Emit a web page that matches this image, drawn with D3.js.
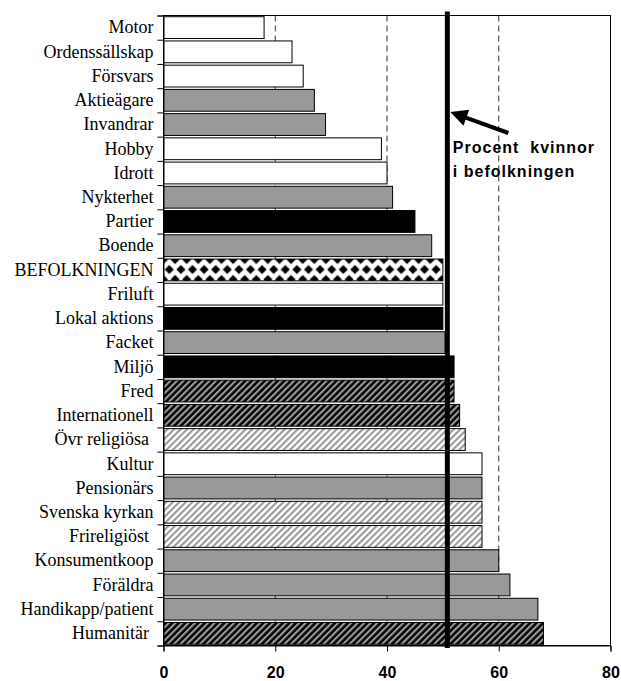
<!DOCTYPE html>
<html>
<head>
<meta charset="utf-8">
<script src="https://cdn.jsdelivr.net/npm/d3@7"></script>
<style>
  body { margin: 0; background: #fff; }
  svg { display: block; }
</style>
</head>
<body>
<script>
// Andel kvinnor (%) bland medlemmar, per typ av förening
var categories = ["Motor", "Ordenssällskap", "Försvars", "Aktieägare", "Invandrar", "Hobby", "Idrott",
    "Nykterhet", "Partier", "Boende", "BEFOLKNINGEN", "Friluft", "Lokal aktions", "Facket", "Miljö",
    "Fred", "Internationell", "Övr religiösa ", "Kultur", "Pensionärs", "Svenska kyrkan", "Frireligiöst ",
    "Konsumentkoop", "Föräldra", "Handikapp/patient", "Humanitär "];

var values = [18, 23, 25, 27, 29, 39, 40, 41, 45, 48, 50, 50, 50, 50.4, 52,
    52, 53, 54, 57, 57, 57, 57, 60, 62, 67, 68];

// grupp-kod för varje kategori (styr fyllningen)
var groups = ["a", "a", "a", "b", "b", "a", "a", "b", "c", "b", "pop", "a", "c", "b", "c",
    "d", "d", "e", "a", "b", "e", "e", "b", "b", "b", "d"];

var xTicks = [0, 20, 40, 60, 80];
var refValue = 50.8;   // procent kvinnor i befolkningen
var refLabel = ["Procent  kvinnor", "i befolkningen"];

var svg = d3.select("body").append("svg")
        .attr("width", 621)
        .attr("height", 681),
    margin = {top: 15.5, right: 10.5, bottom: 35.5, left: 163.5},
    width = +svg.attr("width") - margin.left - margin.right,
    height = +svg.attr("height") - margin.top - margin.bottom,
    g = svg.append("g").attr("transform", "translate(" + margin.left + "," + margin.top + ")");

var x = d3.scaleLinear()
    .domain([0, 80])
    .range([0, width]);

var y = d3.scaleBand()
    .domain(categories)
    .range([0, height])
    .paddingInner(0.1)
    .paddingOuter(0.05);

// category boundaries for the left axis ticks
var yEdge = d3.scaleLinear()
    .domain([0, categories.length])
    .range([0, height]);

// ---------- patterns ----------
var defs = svg.append("defs");

function hatch(id, bg, fg) {
    var p = defs.append("pattern")
        .attr("id", id)
        .attr("patternUnits", "userSpaceOnUse")
        .attr("width", 4.6)
        .attr("height", 4.6)
        .attr("patternTransform", "rotate(45)");
    p.append("rect").attr("width", 4.6).attr("height", 4.6).attr("fill", bg);
    p.append("rect").attr("width", 2.1).attr("height", 4.6).attr("fill", fg);
}
hatch("darkHatch", "#000", "#9a9a9a");
hatch("lightHatch", "#fff", "#9a9a9a");

var popIndex = groups.indexOf("pop");
var dp = defs.append("pattern")
    .attr("id", "diamonds")
    .attr("patternUnits", "userSpaceOnUse")
    .attr("x", 0)
    .attr("y", margin.top + y(categories[popIndex]))
    .attr("width", 11.6)
    .attr("height", 20);
dp.append("rect").attr("width", 11.6).attr("height", 20).attr("fill", "#fff");
[[0, 5], [11.6, 5], [5.8, 15]].forEach(function(c) {
    dp.append("path")
        .attr("d", "M" + c[0] + "," + (c[1] - 4.6) + "L" + (c[0] + 4.6) + "," + c[1] +
            "L" + c[0] + "," + (c[1] + 4.6) + "L" + (c[0] - 4.6) + "," + c[1] + "Z")
        .attr("fill", "#000");
});

var fill = d3.scaleOrdinal()
    .domain(["a", "b", "c", "d", "e", "pop"])
    .range(["#ffffff", "#999999", "#000000", "url(#darkHatch)", "url(#lightHatch)", "url(#diamonds)"]);

// ---------- gridlines ----------
g.selectAll(".grid")
    .data(xTicks.filter(function(d) { return d > 0 && d < 80; }))
  .enter().append("line")
    .attr("class", "grid")
    .attr("x1", function(d) { return x(d); })
    .attr("x2", function(d) { return x(d); })
    .attr("y1", 0)
    .attr("y2", height)
    .attr("stroke", "#333")
    .attr("stroke-width", 1)
    .attr("stroke-dasharray", "6,4");

// frame
g.append("rect")
    .attr("width", width)
    .attr("height", height)
    .attr("fill", "none")
    .attr("stroke", "#000")
    .attr("stroke-width", 1);

// ---------- bars ----------
g.selectAll(".bar")
    .data(categories)
  .enter().append("rect")
    .attr("class", "bar")
    .attr("x", 0)
    .attr("y", function(d) { return y(d); })
    .attr("width", function(d, i) { return x(values[i]); })
    .attr("height", y.bandwidth())
    .attr("fill", function(d, i) { return fill(groups[i]); })
    .attr("stroke", "#000")
    .attr("stroke-width", 1);

// ---------- axes ----------
g.append("g")
    .call(d3.axisLeft(yEdge)
        .tickValues(d3.range(categories.length + 1))
        .tickFormat("")
        .tickSize(6))
    .call(function(a) { a.selectAll("path, line").attr("stroke", "#000"); });

var yAxis = g.append("g")
    .call(d3.axisLeft(y).tickSize(0).tickPadding(10));
yAxis.select(".domain").remove();
yAxis.selectAll("text")
    .attr("fill", "#000")
    .style("font-family", "'Liberation Serif', 'Times New Roman', serif")
    .style("font-size", "18px")
    .style("white-space", "pre");

var xAxis = g.append("g")
    .attr("transform", "translate(0," + height + ")")
    .call(d3.axisBottom(x).tickValues(xTicks).tickSize(6).tickPadding(15));
xAxis.selectAll("path, line").attr("stroke", "#000");
xAxis.selectAll("text")
    .attr("fill", "#000")
    .style("font-family", "'Liberation Sans', Arial, sans-serif")
    .style("font-size", "16px")
    .style("font-weight", "bold");

// ---------- reference line + annotation ----------
var rx = x(refValue);
g.append("line")
    .attr("x1", rx).attr("x2", rx)
    .attr("y1", -4).attr("y2", height + 2.5)
    .attr("stroke", "#000")
    .attr("stroke-width", 5);

var tip = [rx + 3, 96.5],
    tail = [rx + 61, 117.5],
    dx = tip[0] - tail[0], dy = tip[1] - tail[1],
    len = Math.sqrt(dx * dx + dy * dy),
    ux = dx / len, uy = dy / len,
    headLen = 17, headW = 8.5,
    base = [tip[0] - ux * headLen, tip[1] - uy * headLen];

g.append("line")
    .attr("x1", tail[0]).attr("y1", tail[1])
    .attr("x2", base[0] + ux * 2).attr("y2", base[1] + uy * 2)
    .attr("stroke", "#000")
    .attr("stroke-width", 4);

g.append("path")
    .attr("d", "M" + tip[0] + "," + tip[1] +
        "L" + (base[0] - uy * headW) + "," + (base[1] + ux * headW) +
        "L" + (base[0] + uy * headW) + "," + (base[1] - ux * headW) + "Z")
    .attr("fill", "#000");

g.append("g").selectAll("text")
    .data(refLabel)
  .enter().append("text")
    .attr("x", rx + 5.5)
    .attr("y", function(d, i) { return 137 + i * 24; })
    .style("font-family", "'Liberation Sans', Arial, sans-serif")
    .style("font-size", "16px")
    .style("font-weight", "bold")
    .style("letter-spacing", "1px")
    .style("white-space", "pre")
    .text(function(d) { return d; });
</script>
</body>
</html>
